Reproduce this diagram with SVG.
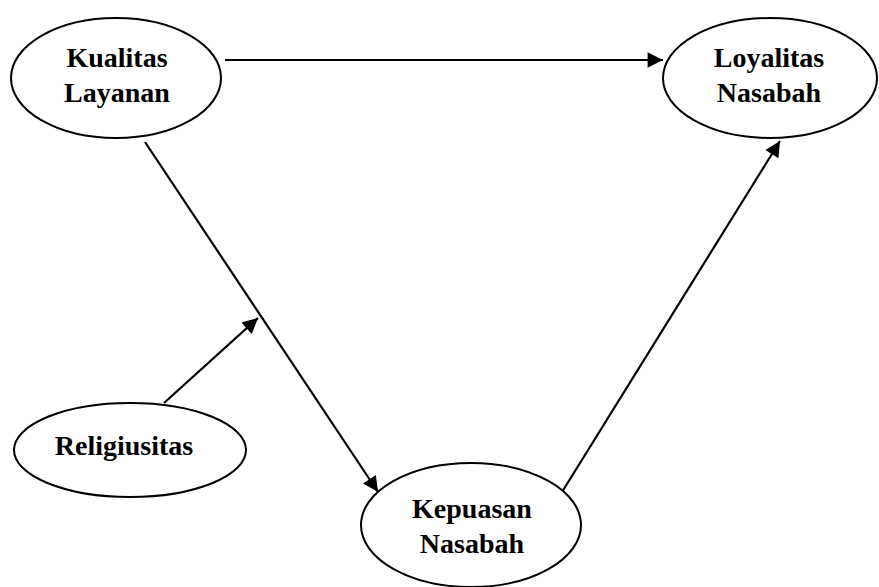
<svg xmlns="http://www.w3.org/2000/svg" width="879" height="587" viewBox="0 0 879 587">
<style>
.node ellipse{fill:#fff;stroke:#000;stroke-width:2}
.node text{font-family:"Liberation Serif","Times New Roman",serif;font-weight:bold;font-size:28px;text-anchor:middle;fill:#000}
.edge{stroke:#000;stroke-width:2.2;fill:none;marker-end:url(#ah)}
</style>
<defs>
<marker id="ah" viewBox="0 0 10 10" refX="10" refY="5" markerWidth="8" markerHeight="7" markerUnits="strokeWidth" orient="auto">
<path d="M0,0 L10,5 L0,10 Z" fill="#000"/>
</marker>
</defs>
<rect width="879" height="587" fill="#fff"/>
<g id="connectors">
<line class="edge" x1="225" y1="60" x2="663" y2="60"/>
<line class="edge" x1="145" y1="142" x2="378" y2="492"/>
<line class="edge" x1="562" y1="492" x2="780" y2="141"/>
<line class="edge" x1="164" y1="403" x2="258" y2="318"/>
</g>
<g id="kualitas" class="node">
<ellipse cx="116" cy="78" rx="105" ry="60"/>
<text x="117" y="67">Kualitas</text>
<text x="117" y="102">Layanan</text>
</g>
<g id="loyalitas" class="node">
<ellipse cx="770" cy="78" rx="107" ry="60"/>
<text x="769" y="67">Loyalitas</text>
<text x="769" y="102">Nasabah</text>
</g>
<g id="religiusitas" class="node">
<ellipse cx="130" cy="450" rx="116" ry="47"/>
<text x="124" y="455">Religiusitas</text>
</g>
<g id="kepuasan" class="node">
<ellipse cx="471" cy="525" rx="110" ry="62"/>
<text x="472" y="518">Kepuasan</text>
<text x="472" y="553">Nasabah</text>
</g>
</svg>
